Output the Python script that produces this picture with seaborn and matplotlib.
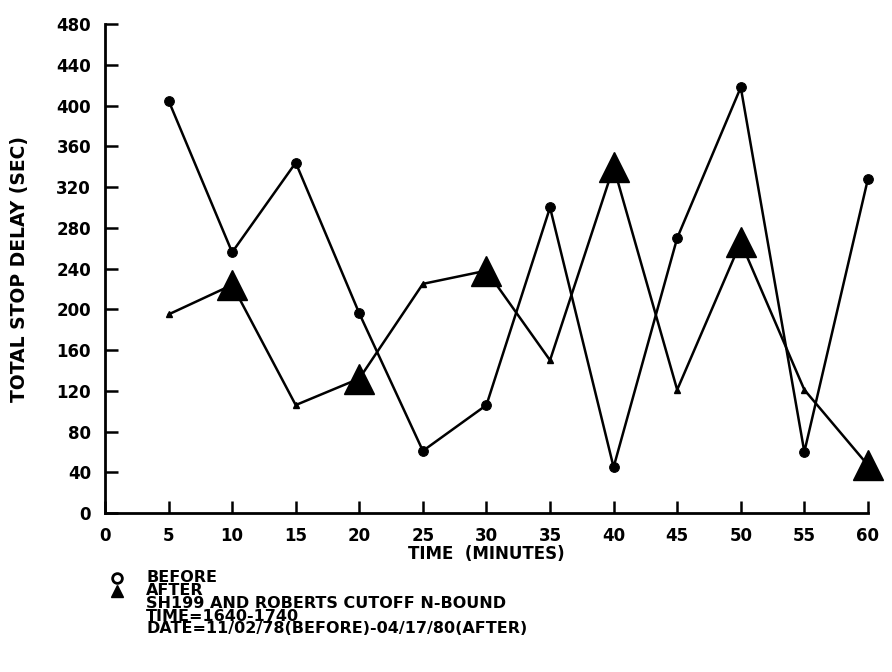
import matplotlib
matplotlib.use("Agg")
import matplotlib.pyplot as plt
import seaborn as sns
import numpy as np
import pandas as pd

minutes = [5, 10, 15, 20, 25, 30, 35, 40, 45, 50, 55, 60]
before = [405, 256, 344, 196, 61, 106, 300, 45, 270, 418, 60, 328]
after = [195, 224, 106, 132, 225, 238, 150, 340, 121, 266, 121, 47]

x_ticks = list(range(0, 61, 5))
y_ticks = list(range(0, 481, 40))

sns.set_theme(style="white")
plt.rcParams["font.family"] = ["DejaVu Sans"]
plt.rcParams["font.weight"] = "bold"
plt.rcParams["text.color"] = "black"
plt.rcParams["axes.labelcolor"] = "black"
plt.rcParams["xtick.color"] = "black"
plt.rcParams["ytick.color"] = "black"

df = pd.DataFrame({"minutes": minutes, "before": before, "after": after})

fig = plt.figure(figsize=(8.92, 6.72), dpi=100)
ax = fig.add_axes([0.1177, 0.2366, 0.973 - 0.1177, 0.964 - 0.2366])

sns.lineplot(data=df, x="minutes", y="before", ax=ax, color="black", lw=1.8,
             marker="o", markersize=7, markeredgecolor="black",
             markerfacecolor="black", clip_on=False)
sns.lineplot(data=df, x="minutes", y="after", ax=ax, color="black", lw=1.8,
             clip_on=False)

# alternate small and large triangles along the AFTER series
small = df.iloc[0::2]
large = df.iloc[1::2]
ax.plot(small["minutes"], small["after"], linestyle="none", marker="^",
        markersize=5, color="black", clip_on=False)
ax.plot(large["minutes"], large["after"], linestyle="none", marker="^",
        markersize=21, color="black", clip_on=False)

ax.set_xlim(0, 60)
ax.set_ylim(0, 480)
ax.set_xticks(x_ticks)
ax.set_yticks(y_ticks)
ax.set_xticklabels([str(v) for v in x_ticks], fontsize=12, fontweight="bold")
ax.set_yticklabels([str(v) for v in y_ticks], fontsize=12, fontweight="bold")
ax.tick_params(axis="both", direction="in", length=9, width=1.8, color="black",
               bottom=True, left=True)
ax.tick_params(axis="x", pad=10)
ax.tick_params(axis="y", pad=10)

for side in ["top", "right"]:
    ax.spines[side].set_visible(False)
for side in ["left", "bottom"]:
    ax.spines[side].set_linewidth(2)
    ax.spines[side].set_color("black")

ax.set_xlabel("TIME  (MINUTES)", fontsize=12, fontweight="bold", labelpad=0)
ax.set_ylabel("TOTAL STOP DELAY (SEC)", fontsize=13.5, fontweight="bold")
ax.yaxis.set_label_coords(-0.1, 0.5)
ax.set_facecolor("white")

# footer legend and notes
fig.lines.append(plt.Line2D([117 / 892], [1 - 578 / 672], marker="o", markersize=7,
                            markerfacecolor="white", markeredgecolor="black",
                            markeredgewidth=2, linestyle="none",
                            transform=fig.transFigure))
fig.lines.append(plt.Line2D([117 / 892], [1 - 591 / 672], marker="^", markersize=8,
                            color="black", linestyle="none", transform=fig.transFigure))
notes = ["BEFORE", "AFTER", "SH199 AND ROBERTS CUTOFF N-BOUND", "TIME=1640-1740",
         "DATE=11/02/78(BEFORE)-04/17/80(AFTER)"]
fig.text(146 / 892, 1 - 570 / 672, "\n".join(notes), fontsize=11.5,
         fontweight="bold", ha="left", va="top", linespacing=0.82)

fig.savefig("out.png", dpi=100, facecolor="white")
